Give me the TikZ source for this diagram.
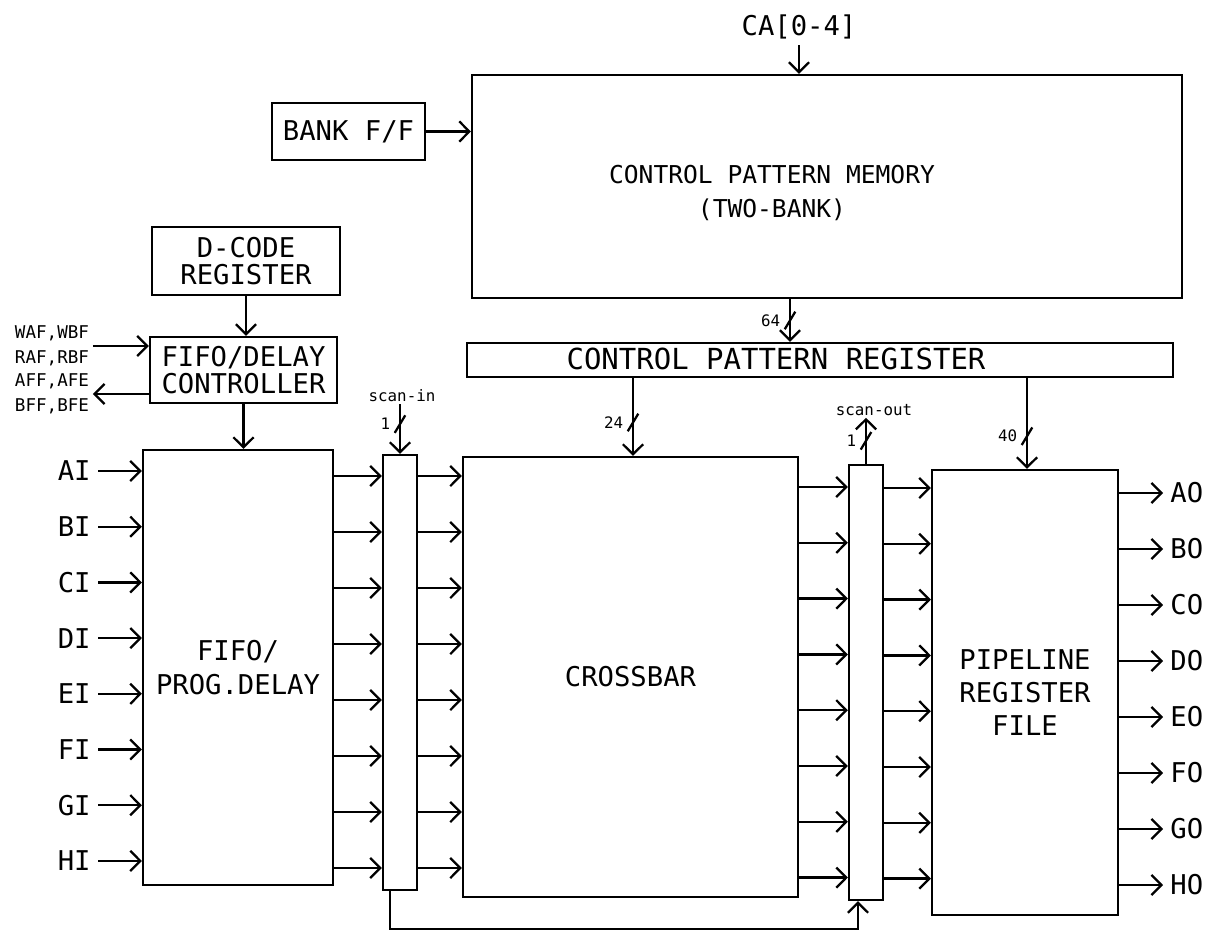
\documentclass[tikz,border=0pt]{standalone}
\usepackage{fontspec}
\setmonofont{DejaVu Sans Mono}
\usepackage{tikz}
\usetikzlibrary{arrows.meta, decorations.markings}

\begin{document}
\begin{tikzpicture}[
    x=0.02cm, y=-0.02cm,
    txt/.style={font=\ttfamily\fontsize{15.5}{15.5}\selectfont},
    box/.style={draw, line width=1.3pt, align=center, inner sep=0pt, txt},
    bar/.style={draw, line width=1.3pt, inner sep=0pt, minimum width=0.68cm, minimum height=8.7cm},
    io/.style={txt, inner sep=4pt},
    flag/.style={font=\ttfamily\fontsize{10}{14.2}\selectfont, align=left, inner sep=2pt},
    tiny/.style={font=\ttfamily\fontsize{9}{10}\selectfont, inner sep=1pt},
    arr/.style={line width=1.3pt, -{Straight Barb[length=5.7pt, width=11.5pt]}},
    bus/.style={postaction={decorate, decoration={markings, mark=at position #1 with {\draw[-, line width=1.3pt] (-5pt,3pt) -- (5pt,-3pt);}}}},
    bus/.default=0.5
]
\useasboundingbox (0,0) rectangle (1211,934);

% Blocks
\node[box, minimum width=14.2cm, minimum height=4.46cm] (cpm) at (827,186.5) {};
\node[txt, align=center, font=\ttfamily\fontsize{14}{19.8}\selectfont] (cpmtext) at (772,193) {CONTROL PATTERN MEMORY\\(TWO-BANK)};
\node[box, minimum width=3.06cm, minimum height=1.14cm] (bank) at (348.5,131.5) {BANK F/F};
\node[box, minimum width=3.76cm, minimum height=1.36cm] (dcode) at (246,261) {D-CODE\\REGISTER};
\node[box, minimum width=3.74cm, minimum height=1.32cm] (ctrl) at (243.5,370) {FIFO/DELAY\\CONTROLLER};
\node[box, minimum width=14.12cm, minimum height=0.68cm] (cpr) at (820,360) {};
\node[txt, font=\ttfamily\fontsize{16.5}{16.5}\selectfont] (cprtext) at (776,359) {CONTROL PATTERN REGISTER};
\node[box, minimum width=3.8cm, minimum height=8.7cm, font=\ttfamily\fontsize{15.5}{19.8}\selectfont] (fifo) at (238,667.5) {FIFO/\\PROG.DELAY};
\node[bar] (scanin) at (400,672.5) {};
\node[box, minimum width=6.7cm, minimum height=8.8cm] (xbar) at (630.5,677) {CROSSBAR};
\node[bar] (scanout) at (866,682.5) {};
\node[box, minimum width=3.72cm, minimum height=8.9cm, font=\ttfamily\fontsize{15.5}{18.7}\selectfont] (prf) at (1025,692.5) {PIPELINE\\REGISTER\\FILE};

% Labels
\node[txt] (ca) at (799,27) {CA[0-4]};
\node[flag] (wflags) at (52,346) {WAF,WBF\\RAF,RBF};
\node[flag] (aflags) at (52,394) {AFF,AFE\\BFF,BFE};
\node[tiny] (scinlabel) at (402,396) {scan-in};
\node[tiny] (scoutlabel) at (874,410) {scan-out};

\coordinate (bus64) at (790,320);
\coordinate (bus24) at (633,420);
\coordinate (bus40) at (1027,430);

% Control paths
\draw[arr] (ca.south) -- (ca.south |- cpm.north);
\draw[arr] (bank.east) -- (bank.east -| cpm.west);
\draw[arr] (dcode.south) -- (dcode.south |- ctrl.north);
\draw[arr] (ctrl.south) -- (ctrl.south |- fifo.north);
\draw[arr] (wflags.east) -- (wflags.east -| ctrl.west);
\draw[arr] (ctrl.west |- aflags) -- (aflags.east);

% Buses
\draw[arr, bus] (bus64 |- cpm.south) -- node[tiny, left=4pt] (n64) {64} (bus64 |- cpr.north);
\draw[arr, bus=.57] (bus24 |- cpr.south) -- node[tiny, pos=.57, left=4pt] (n24) {24} (bus24 |- xbar.north);
\draw[arr, bus=.64] (bus40 |- cpr.south) -- node[tiny, pos=.64, left=4pt] (n40) {40} (bus40 |- prf.north);
\draw[arr, bus=.4] (scanin.north |- scinlabel.south) -- node[tiny, pos=.4, left=4pt] (nin) {1} (scanin.north);
\draw[arr, bus] (scanout.north) -- node[tiny, left=4pt] (nout) {1} (scanout.north |- scoutlabel.south);

% Scan chain
\draw[arr] ([xshift=-0.2cm]scanin.south) -- ++(0,38) -| ([xshift=-0.16cm]scanout.south);

% Data rows
\foreach \n [count=\i from 0] in {A,B,C,D,E,F,G,H}{
  \coordinate (ra\n) at (0,476+56*\i);
  \coordinate (rb\n) at (0,487+55.8*\i);
  \coordinate (rc\n) at (0,488+55.8*\i);
  \node[io, anchor=east] (in\n) at (98,471+55.7*\i) {\n I};
  \node[io, anchor=west] (out\n) at (1163,493+56*\i) {\n O};
  \draw[arr] (in\n.east) -- (in\n.east -| fifo.west);
  \draw[arr] (fifo.east |- ra\n) -- (scanin.west |- ra\n);
  \draw[arr] (scanin.east |- ra\n) -- (xbar.west |- ra\n);
  \draw[arr] (xbar.east |- rb\n) -- (scanout.west |- rb\n);
  \draw[arr] (scanout.east |- rc\n) -- (prf.west |- rc\n);
  \draw[arr] (prf.east |- out\n) -- (out\n.west);
}
\end{tikzpicture}
\end{document}
